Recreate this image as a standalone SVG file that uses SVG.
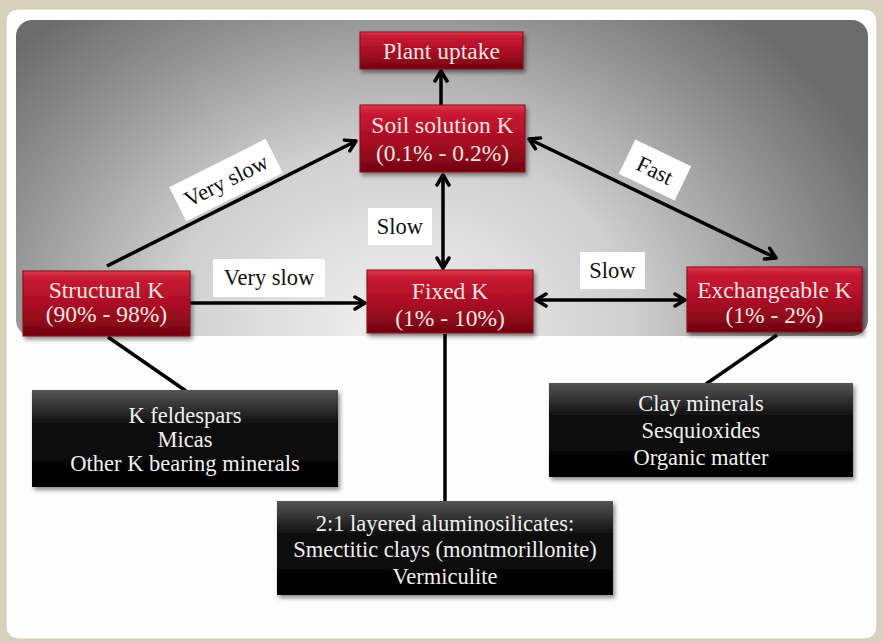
<svg xmlns="http://www.w3.org/2000/svg" width="883" height="642" viewBox="0 0 883 642">
<defs>
<radialGradient id="bg" gradientUnits="userSpaceOnUse" cx="400" cy="330" r="520" gradientTransform="translate(400 330) scale(1 0.8) translate(-400 -330)">
<stop offset="0" stop-color="#f2f2f2"/>
<stop offset="0.45" stop-color="#cfcfcf"/>
<stop offset="0.8" stop-color="#8e8e8e"/>
<stop offset="1" stop-color="#6c6c6c"/>
</radialGradient>
<linearGradient id="red" x1="0" y1="0" x2="0" y2="1">
<stop offset="0" stop-color="#dc3a4c"/>
<stop offset="0.12" stop-color="#c81a32"/>
<stop offset="0.55" stop-color="#a80c24"/>
<stop offset="1" stop-color="#72040f"/>
</linearGradient>
<linearGradient id="blk" x1="0" y1="0" x2="0" y2="1">
<stop offset="0" stop-color="#555"/>
<stop offset="0.35" stop-color="#101010"/>
<stop offset="1" stop-color="#000"/>
</linearGradient>
<filter id="sh" x="-10%" y="-20%" width="125%" height="150%">
<feDropShadow dx="2" dy="3" stdDeviation="2" flood-color="#000" flood-opacity="0.45"/>
</filter>
<marker id="ah" viewBox="0 0 16 16" markerWidth="16" markerHeight="16" refX="13" refY="8" markerUnits="userSpaceOnUse" orient="auto-start-reverse">
<path d="M3,2 L13,8 L3,14" fill="none" stroke="#000" stroke-width="3.5" stroke-linecap="round" stroke-linejoin="round"/>
</marker>
<style>
.rbox{fill:url(#red);stroke:#8a0a1c;stroke-width:1;filter:url(#sh)}
.bbox{fill:url(#blk);filter:url(#sh)}
.rt{font-family:"Liberation Serif","Times New Roman",serif;font-size:23.5px;fill:#f6e2e2;text-anchor:middle}
.bt{font-family:"Liberation Serif","Times New Roman",serif;font-size:22.5px;fill:#f0f0f0;text-anchor:middle}
.lt{font-family:"Liberation Serif","Times New Roman",serif;font-size:22.5px;fill:#111;text-anchor:middle}
.lbl{fill:#fff}
.ln{stroke:#000;stroke-width:3.5;fill:none}
</style>
</defs>
<rect x="0" y="0" width="883" height="642" fill="#d8d1bb"/>
<rect x="6" y="9" width="871" height="630" rx="12" fill="#fdfdfd" stroke="#cfc8b0" stroke-width="1"/>
<rect x="16" y="20" width="852" height="316" rx="16" fill="url(#bg)"/>

<g id="connectors">
<line class="ln" x1="441" y1="105" x2="441" y2="71" marker-end="url(#ah)"/>
<line class="ln" x1="443" y1="175" x2="443" y2="268" marker-start="url(#ah)" marker-end="url(#ah)"/>
<line class="ln" x1="190" y1="303" x2="365" y2="303" marker-end="url(#ah)"/>
<line class="ln" x1="536" y1="300" x2="685" y2="300" marker-start="url(#ah)" marker-end="url(#ah)"/>
<line class="ln" x1="529" y1="139" x2="776" y2="258" marker-start="url(#ah)" marker-end="url(#ah)"/>
<line class="ln" x1="107" y1="266" x2="356" y2="141" marker-end="url(#ah)"/>
<line class="ln" x1="108" y1="337" x2="186" y2="391"/>
<line class="ln" x1="445" y1="334" x2="445" y2="501"/>
<line class="ln" x1="777" y1="335" x2="706" y2="384"/>
</g>

<g id="label-veryslow-diag" transform="translate(226 180) rotate(-26.7)">
<rect class="lbl" x="-54" y="-19" width="108" height="38"/>
<text class="lt" x="0" y="8">Very slow</text>
</g>
<g id="label-fast" transform="translate(655 170) rotate(25.7)">
<rect class="lbl" x="-31" y="-19" width="62" height="38"/>
<text class="lt" x="0" y="8">Fast</text>
</g>
<g id="label-slow-vert">
<rect class="lbl" x="368" y="208" width="64" height="37"/>
<text class="lt" x="400" y="234">Slow</text>
</g>
<g id="label-veryslow-horiz">
<rect class="lbl" x="213" y="259" width="112" height="38"/>
<text class="lt" x="269" y="285">Very slow</text>
</g>
<g id="label-slow-horiz">
<rect class="lbl" x="580" y="252" width="65" height="37"/>
<text class="lt" x="612.5" y="278">Slow</text>
</g>

<g id="plant-uptake">
<rect class="rbox" x="360" y="32" width="163" height="37"/>
<text class="rt" x="441.5" y="59">Plant uptake</text>
</g>
<g id="soil-solution">
<rect class="rbox" x="360" y="105" width="165" height="67"/>
<text class="rt" x="442.5" y="133">Soil solution K</text>
<text class="rt" x="442.5" y="161">(0.1% - 0.2%)</text>
</g>
<g id="fixed-k">
<rect class="rbox" x="367" y="270" width="166" height="63"/>
<text class="rt" x="450" y="299">Fixed K</text>
<text class="rt" x="450" y="326">(1% - 10%)</text>
</g>
<g id="structural-k">
<rect class="rbox" x="23" y="271" width="167" height="65"/>
<text class="rt" x="106.5" y="298">Structural K</text>
<text class="rt" x="106.5" y="322">(90% - 98%)</text>
</g>
<g id="exchangeable-k">
<rect class="rbox" x="687" y="267" width="175" height="65"/>
<text class="rt" x="774.5" y="298">Exchangeable K</text>
<text class="rt" x="774.5" y="323">(1% - 2%)</text>
</g>

<g id="minerals-structural">
<rect class="bbox" x="32" y="390" width="306" height="97"/>
<text class="bt" x="185" y="423">K feldespars</text>
<text class="bt" x="185" y="447">Micas</text>
<text class="bt" x="185" y="471">Other K bearing minerals</text>
</g>
<g id="minerals-fixed">
<rect class="bbox" x="277" y="501" width="336" height="94"/>
<text class="bt" x="445" y="531">2:1 layered aluminosilicates:</text>
<text class="bt" x="445" y="557">Smectitic clays (montmorillonite)</text>
<text class="bt" x="445" y="584">Vermiculite</text>
</g>
<g id="minerals-exchangeable">
<rect class="bbox" x="549" y="383" width="304" height="94"/>
<text class="bt" x="701" y="411">Clay minerals</text>
<text class="bt" x="701" y="438">Sesquioxides</text>
<text class="bt" x="701" y="465">Organic matter</text>
</g>
</svg>
